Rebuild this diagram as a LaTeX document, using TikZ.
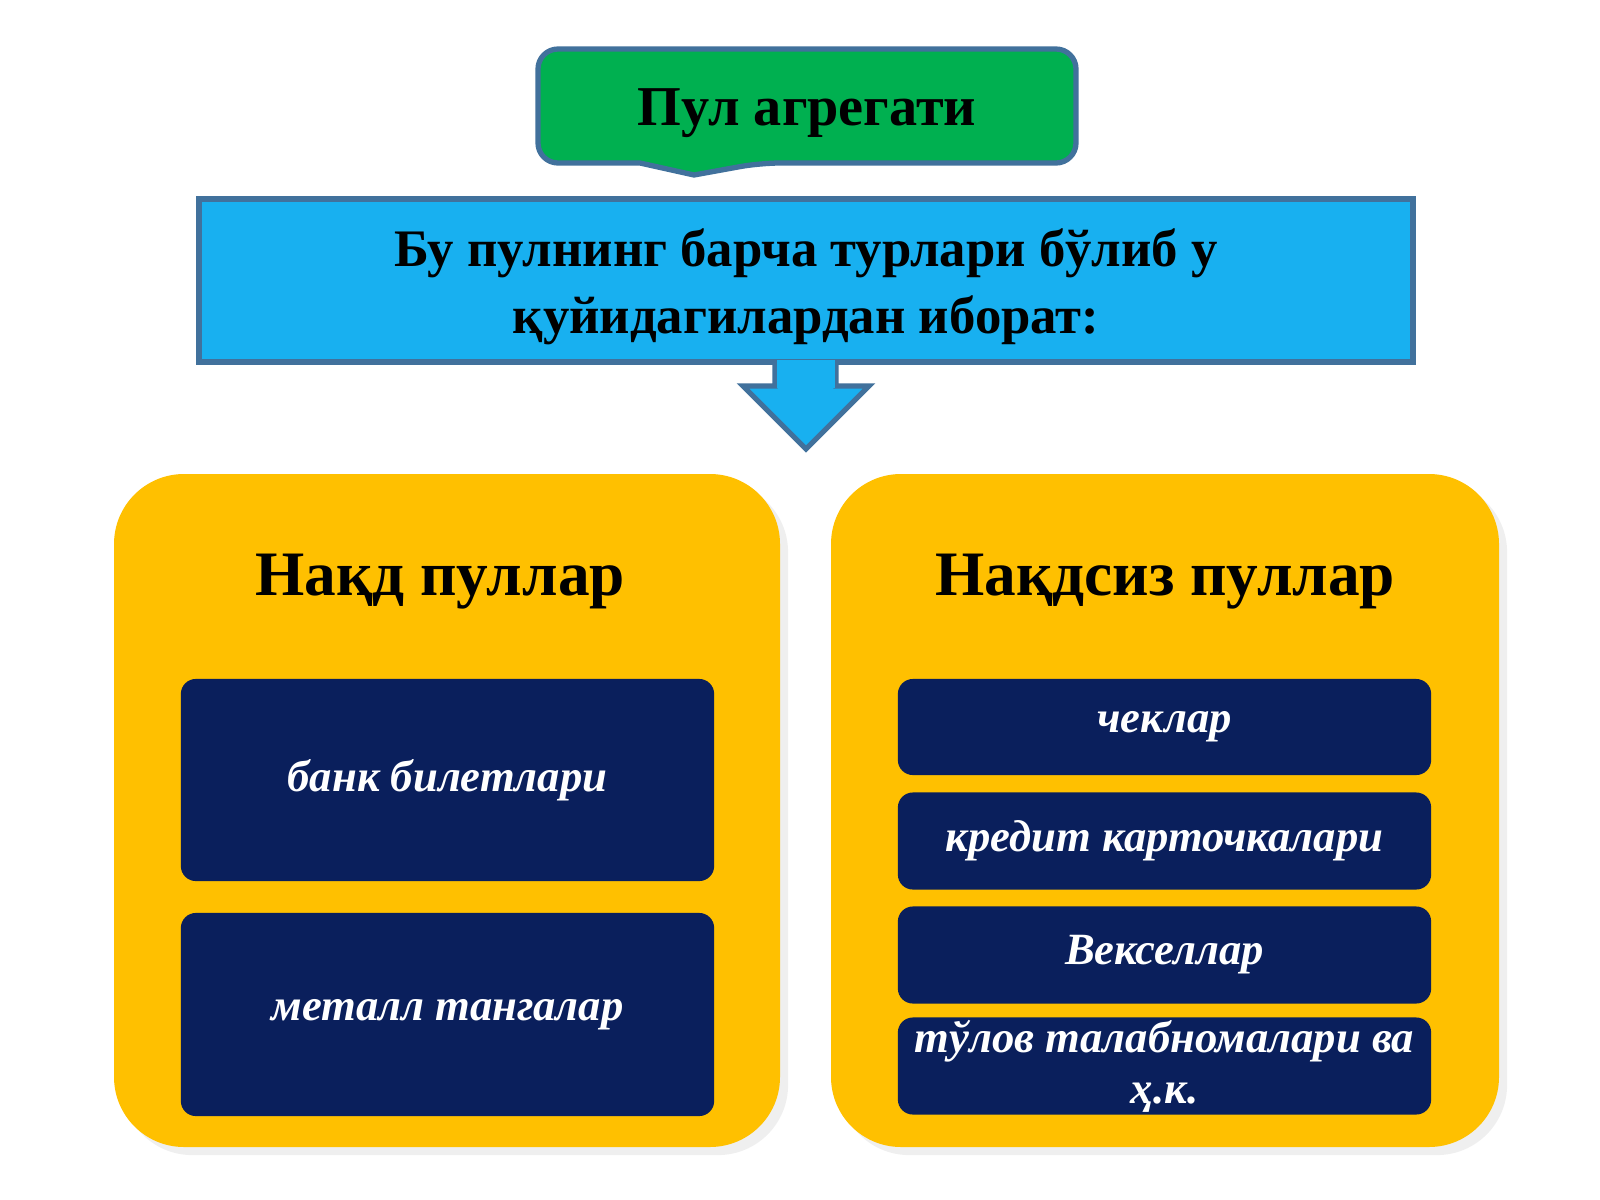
\documentclass[tikz,border=0pt]{standalone}
\usepackage{fontspec}
\setmainfont{Liberation Serif}
\usetikzlibrary{shadows}
\definecolor{grn}{HTML}{00B050}
\definecolor{blu}{HTML}{18B0F0}
\definecolor{ylw}{HTML}{FFC000}
\definecolor{nav}{HTML}{0A1F5C}
\definecolor{edg}{HTML}{41719C}
\tikzset{
 yb/.style={fill=ylw,rounded corners=0.7cm,drop shadow={opacity=0.12}},
 nb/.style={fill=nav,rounded corners=0.15cm,text=white,font=\fontsize{12.7}{14.5}\selectfont\bfseries\itshape,align=center},
 hd/.style={font=\fontsize{18}{22}\selectfont\bfseries},
}
\begin{document}
\begin{tikzpicture}[x=0.01cm,y=-0.01cm]
\useasboundingbox[fill=white] (0,0) rectangle (1600,1200);
% green callout
\draw[edg,line width=1.5pt,fill=grn,rounded corners=0.2cm] (538,49) -- (1076,49) -- (1076,163) -- (760,163) [sharp corners]-- (694,175) -- (640,163) [rounded corners=0.2cm]-- (538,163) -- cycle;
\node[font=\fontsize{16}{20}\selectfont\bfseries] (t) at (807,113) {Пул агрегати};
% blue box
\draw[edg,line width=1.5pt,fill=blu] (199,199) rectangle (1413,362);
\node[font=\fontsize{15}{19}\selectfont\bfseries,align=center] (b) at (806,287) {Бу пулнинг барча турлари бўлиб у\\қуйидагилардан иборат:};
\draw[edg,line width=1.5pt,fill=blu] (775,362) -- (775,386) -- (743,386) -- (806,449) -- (869,386) -- (836,386) -- (836,362);
\fill[blu] (776.5,360) rectangle (834.5,388);
% yellow panels
\fill[yb] (114,474) rectangle (780,1147);
\fill[yb] (831,474) rectangle (1499,1147);
\node[hd] (h1) at (440,582) {Нақд пуллар};
\node[hd] (h2) at (1165,582) {Нақдсиз пуллар};
\node[nb,minimum width=5.33cm,minimum height=2.02cm] (a1) at (447.5,780) {банк билетлари};
\node[nb,minimum width=5.33cm,minimum height=2.03cm] (a2) at (447.5,1014.5) {металл тангалар};
\node[nb,minimum width=5.33cm,minimum height=0.96cm] (c1) at (1164.5,727) {чеклар};
\node[nb,minimum width=5.33cm,minimum height=0.97cm] (c2) at (1164.5,841) {кредит карточкалари};
\node[nb,minimum width=5.33cm,minimum height=0.97cm] (c3) at (1164.5,955) {Векселлар};
\node[nb,minimum width=5.33cm,minimum height=0.97cm,inner sep=0pt] (c4) at (1164.5,1066) {тўлов талабномалари ва\\ҳ.к.};
\end{tikzpicture}
\end{document}
